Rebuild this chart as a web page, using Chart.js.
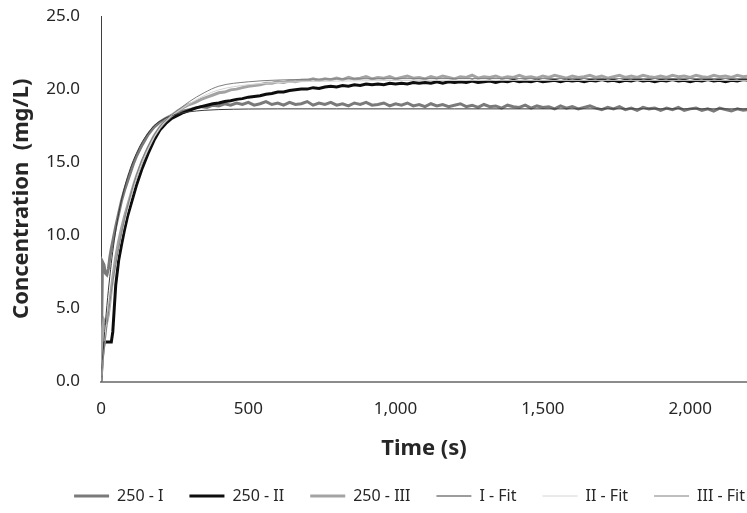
<!DOCTYPE html>
<html>
<head>
<meta charset="utf-8">
<script src="https://cdn.jsdelivr.net/npm/chart.js@4.4.0/dist/chart.umd.min.js"></script>
<style>
  body { margin: 0; background: #fff; }
  canvas { display: block; }
</style>
</head>
<body>
<canvas id="concChart" width="747" height="513"></canvas>
<script>
// time axis of the measured curves (s)
const timeRaw = [0, 5, 10, 15, 20, 25, 30, 35, 40, 45, 50, 60, 70, 80, 90, 100, 110, 120, 140, 160, 180, 200, 220, 240, 260, 280, 300,
    320, 340, 360, 380, 400, 420, 440, 460, 480, 500,
    520, 540, 560, 580, 600, 620, 640, 660, 680, 700,
    720, 740, 760, 780, 800, 820, 840, 860, 880, 900,
    920, 940, 960, 980, 1000, 1020, 1040, 1060, 1080, 1100,
    1120, 1140, 1160, 1180, 1200, 1220, 1240, 1260, 1280, 1300,
    1320, 1340, 1360, 1380, 1400, 1420, 1440, 1460, 1480, 1500,
    1520, 1540, 1560, 1580, 1600, 1620, 1640, 1660, 1680, 1700,
    1720, 1740, 1760, 1780, 1800, 1820, 1840, 1860, 1880, 1900,
    1920, 1940, 1960, 1980, 2000, 2020, 2040, 2060, 2080, 2100,
    2120, 2140, 2160, 2180, 2200];

// measured concentrations (mg/L)
const run250I = [0.3, 8.2, 8.0, 7.4, 7.3, 7.7, 8.5, 9.1, 9.6, 10.1, 10.6, 11.5, 12.4, 13.1, 13.7, 14.3, 14.9, 15.4, 16.2, 16.9, 17.4, 17.75, 18.0, 18.2, 18.35, 18.5, 18.6,
    18.7, 18.8, 18.75, 18.9, 18.85, 19.0, 18.9, 19.05, 18.95, 19.1,
    18.9, 19.0, 19.15, 18.95, 19.05, 18.9, 19.1, 18.95, 19.0, 19.15,
    18.9, 19.05, 18.95, 19.1, 18.9, 19.0, 18.85, 19.05, 18.95, 19.1,
    18.9, 18.95, 19.05, 18.85, 19.0, 18.9, 19.05, 18.85, 18.95, 18.8,
    19.0, 18.85, 18.95, 18.8, 18.9, 19.0, 18.8, 18.9, 18.75, 18.95,
    18.8, 18.85, 18.7, 18.9, 18.8, 18.75, 18.9, 18.7, 18.85, 18.75,
    18.8, 18.65, 18.85, 18.7, 18.8, 18.65, 18.75, 18.85, 18.7, 18.6,
    18.75, 18.65, 18.8, 18.6, 18.7, 18.55, 18.75, 18.65, 18.7, 18.55,
    18.7, 18.6, 18.75, 18.55, 18.65, 18.7, 18.55, 18.65, 18.5, 18.7,
    18.6, 18.5, 18.65, 18.55, 18.6];

const run250II = [0, 1.8, 2.6, 2.7, 2.7, 2.7, 2.7, 2.7, 3.4, 5.0, 6.6, 8.3, 9.4, 10.4, 11.3, 12.0, 12.7, 13.4, 14.6, 15.6, 16.5, 17.2, 17.65, 18.0, 18.2, 18.4, 18.55,
    18.7, 18.8, 18.9, 19.0, 19.05, 19.15, 19.2, 19.3, 19.35, 19.45,
    19.5, 19.55, 19.65, 19.7, 19.8, 19.8, 19.9, 19.95, 20.0, 20.0,
    20.1, 20.05, 20.15, 20.2, 20.15, 20.25, 20.2, 20.3, 20.25, 20.35,
    20.3, 20.35, 20.3, 20.4, 20.35, 20.4, 20.35, 20.45, 20.4, 20.45,
    20.4, 20.5, 20.4, 20.5, 20.45, 20.5, 20.45, 20.55, 20.45, 20.5,
    20.55, 20.45, 20.55, 20.5, 20.6, 20.5, 20.55, 20.5, 20.6, 20.5,
    20.55, 20.6, 20.5, 20.6, 20.55, 20.6, 20.5, 20.6, 20.55, 20.65,
    20.55, 20.6, 20.5, 20.6, 20.55, 20.65, 20.55, 20.6, 20.5, 20.6,
    20.55, 20.65, 20.55, 20.6, 20.5, 20.6, 20.55, 20.65, 20.55, 20.6,
    20.5, 20.6, 20.55, 20.65, 20.6];

const run250III = [0, 3.6, 4.2, 4.0, 4.1, 4.6, 5.4, 6.3, 7.1, 7.8, 8.5, 9.6, 10.5, 11.3, 12.0, 12.7, 13.4, 14.0, 15.1, 16.0, 16.8, 17.4, 17.85, 18.2, 18.5, 18.75, 18.95,
    19.1, 19.3, 19.45, 19.6, 19.75, 19.8, 19.95, 20.0, 20.1, 20.2,
    20.25, 20.3, 20.4, 20.4, 20.5, 20.45, 20.55, 20.5, 20.6, 20.6,
    20.7, 20.6, 20.7, 20.65, 20.75, 20.65, 20.8, 20.7, 20.75, 20.85,
    20.7, 20.8, 20.75, 20.85, 20.7, 20.8, 20.9, 20.75, 20.8, 20.7,
    20.85, 20.75, 20.9, 20.8, 20.7, 20.85, 20.8, 20.95, 20.75, 20.85,
    20.8, 20.9, 20.75, 20.85, 20.8, 20.95, 20.8, 20.85, 20.75, 20.9,
    20.8, 20.95, 20.85, 20.75, 20.9, 20.8, 20.85, 20.95, 20.8, 20.9,
    20.75, 20.85, 20.95, 20.8, 20.9, 20.8, 20.95, 20.85, 20.8, 20.9,
    20.8, 20.95, 20.85, 20.9, 20.8, 20.95, 20.85, 20.8, 20.95, 20.85,
    20.9, 20.8, 20.95, 20.85, 20.9];

// fitted curves, read at a few times
const timeFit = [0, 10, 20, 30, 40, 50, 60, 80, 100, 120, 140, 160, 180, 200, 234, 270, 300, 350, 400, 500, 600, 800, 1200, 2200];
const fitI = [0, 2.8, 5.2, 7.2, 8.9, 10.3, 11.5, 13.3, 14.6, 15.6, 16.4, 17.0, 17.5, 17.8, 18.15, 18.35, 18.45, 18.55, 18.6, 18.64, 18.65, 18.65, 18.65, 18.65];
const fitII = [0, 1.9, 3.7, 5.3, 6.7, 7.9, 9.0, 10.9, 12.5, 13.9, 15.0, 15.9, 16.7, 17.35, 18.1, 18.6, 19.0, 19.55, 19.95, 20.3, 20.45, 20.55, 20.6, 20.6];
const fitIII = [0, 2.0, 3.8, 5.4, 6.8, 8.0, 9.1, 11.1, 12.7, 14.1, 15.2, 16.1, 16.85, 17.45, 18.15, 18.7, 19.15, 19.75, 20.2, 20.5, 20.62, 20.7, 20.72, 20.72];

const xTicks = [0, 500, 1000, 1500, 2000];
const yTicks = [0, 5, 10, 15, 20, 25];

const toPoints = (xs, ys) => xs.map((x, i) => ({ x: x, y: ys[i] }));

const textClr = '#262626';
const fontFam = "'Noto Sans', sans-serif";

// raw curves thick, fits thin; lower order is drawn on top
const datasets = [
    { label: '250 - I', data: toPoints(timeRaw, run250I), borderColor: '#7a7a7a', borderWidth: 3, order: 6 },
    { label: '250 - II', data: toPoints(timeRaw, run250II), borderColor: '#0d0d0d', borderWidth: 3, order: 5 },
    { label: '250 - III', data: toPoints(timeRaw, run250III), borderColor: '#a3a3a3', borderWidth: 3, order: 4 },
    { label: 'I - Fit', data: toPoints(timeFit, fitI), borderColor: '#3a3a3a', borderWidth: 1, cubicInterpolationMode: 'monotone', order: 3 },
    { label: 'II - Fit', data: toPoints(timeFit, fitII), borderColor: '#d4d4d4', borderWidth: 1, cubicInterpolationMode: 'monotone', order: 2 },
    { label: 'III - Fit', data: toPoints(timeFit, fitIII), borderColor: '#7f7f7f', borderWidth: 1, cubicInterpolationMode: 'monotone', order: 1 }
];
datasets.forEach(ds => {
    ds.backgroundColor = ds.borderColor;
    ds.pointRadius = 0;
    ds.fill = false;
});

// the legend row sits a bit right of centre in the original
const legendShift = {
    id: 'legendShift',
    beforeDraw(chart) {
        chart.legend.left += 24;
        chart.legend.right += 24;
    }
};

new Chart(document.getElementById('concChart'), {
    type: 'line',
    data: { datasets: datasets },
    plugins: [legendShift],
    options: {
        responsive: false,
        animation: false,
        layout: { padding: { top: 16, left: 0, right: 0, bottom: -1 } },
        plugins: {
            tooltip: { enabled: false },
            legend: {
                position: 'bottom',
                align: 'end',
                labels: {
                    usePointStyle: true,
                    pointStyle: 'line',
                    pointStyleWidth: 35,
                    padding: 26,
                    color: textClr,
                    font: { family: fontFam, size: 16 },
                    sort: (a, b) => a.datasetIndex - b.datasetIndex
                }
            }
        },
        scales: {
            x: {
                type: 'linear',
                min: 0,
                max: 2193,
                afterBuildTicks: scale => { scale.ticks = xTicks.map(v => ({ value: v })); },
                afterFit: scale => { scale.height = 80.4; },
                grid: { display: false, drawTicks: false },
                border: { display: true, color: '#8c8c8c', width: 2 },
                ticks: {
                    padding: 17,
                    color: textClr,
                    font: { family: fontFam, size: 17 },
                    callback: v => v.toLocaleString('en-US')
                },
                title: {
                    display: true,
                    text: 'Time (s)',
                    color: textClr,
                    font: { family: fontFam, size: 22, weight: 'bold' },
                    padding: { top: 3, bottom: 0 }
                }
            },
            y: {
                min: 0,
                max: 25,
                afterBuildTicks: scale => { scale.ticks = yTicks.map(v => ({ value: v })); },
                afterFit: scale => { scale.width = 101; },
                // invisible tick marks keep the labels off the axis without adding top padding
                grid: { display: true, drawOnChartArea: false, drawTicks: true, tickLength: 21, color: 'rgba(0,0,0,0)' },
                border: { display: true, color: '#404040', width: 1 },
                ticks: {
                    padding: 0,
                    color: textClr,
                    font: { family: fontFam, size: 17 },
                    callback: v => v.toFixed(1)
                },
                title: {
                    display: true,
                    text: 'Concentration  (mg/L)',
                    color: textClr,
                    font: { family: fontFam, size: 22, weight: 'bold' },
                    padding: { top: 9, bottom: 0 }
                }
            }
        }
    }
});
</script>
</body>
</html>
